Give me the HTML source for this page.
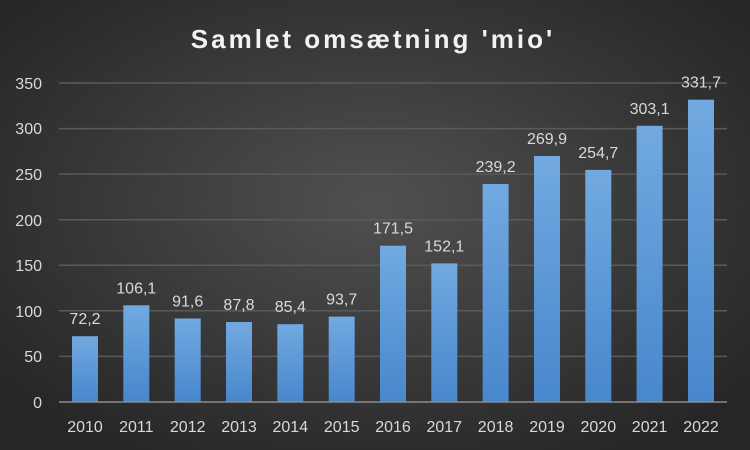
<!DOCTYPE html>
<html><head><meta charset="utf-8"><style>
html,body{margin:0;padding:0;width:750px;height:450px;overflow:hidden;background:#2a2a2a}
</style></head><body>
<svg width="750" height="450" xmlns="http://www.w3.org/2000/svg" font-family="'Liberation Sans', sans-serif">
<defs>
<radialGradient id="bg" cx="50%" cy="45%" r="65%">
<stop offset="0" stop-color="#505050"/><stop offset="1" stop-color="#262626"/>
</radialGradient>
<linearGradient id="bar" x1="0" y1="0" x2="0" y2="1">
<stop offset="0" stop-color="#72a9e0"/><stop offset="1" stop-color="#4887cc"/>
</linearGradient>
</defs>
<rect width="750" height="450" fill="url(#bg)"/>
<text x="373" y="48" text-anchor="middle" font-size="26" font-weight="bold" fill="#f2f2f2" letter-spacing="3">Samlet omsætning 'mio'</text>
<g stroke="#5a5a5a" stroke-width="1.5">
<line x1="59" x2="727" y1="356.4" y2="356.4"/>
<line x1="59" x2="727" y1="310.8" y2="310.8"/>
<line x1="59" x2="727" y1="265.3" y2="265.3"/>
<line x1="59" x2="727" y1="219.7" y2="219.7"/>
<line x1="59" x2="727" y1="174.1" y2="174.1"/>
<line x1="59" x2="727" y1="128.6" y2="128.6"/>
<line x1="59" x2="727" y1="83" y2="83"/>
</g>
<g font-size="16" fill="#d9d9d9" text-anchor="end">
<text x="42" y="408">0</text><text x="42" y="362">50</text><text x="42" y="317">100</text>
<text x="42" y="271">150</text><text x="42" y="226">200</text><text x="42" y="180">250</text>
<text x="42" y="134">300</text><text x="42" y="89">350</text>
</g>
<g fill="url(#bar)">
<rect x="72" y="336.2" width="26" height="65.8"/>
<rect x="123.3" y="305.3" width="26" height="96.7"/>
<rect x="174.7" y="318.5" width="26" height="83.5"/>
<rect x="226" y="322" width="26" height="80"/>
<rect x="277.3" y="324.2" width="26" height="77.8"/>
<rect x="328.7" y="316.6" width="26" height="85.4"/>
<rect x="380" y="245.7" width="26" height="156.3"/>
<rect x="431.3" y="263.4" width="26" height="138.6"/>
<rect x="482.6" y="184" width="26" height="218"/>
<rect x="534" y="156" width="26" height="246"/>
<rect x="585.3" y="169.9" width="26" height="232.1"/>
<rect x="636.6" y="125.8" width="26" height="276.2"/>
<rect x="688" y="99.7" width="26" height="302.3"/>
</g>
<g font-size="16" fill="#d9d9d9" text-anchor="middle">
<text x="85" y="324.2">72,2</text>
<text x="136.3" y="293.3">106,1</text>
<text x="187.7" y="306.5">91,6</text>
<text x="239" y="310">87,8</text>
<text x="290.3" y="312.2">85,4</text>
<text x="341.7" y="304.6">93,7</text>
<text x="393" y="233.7">171,5</text>
<text x="444.3" y="251.4">152,1</text>
<text x="495.6" y="172">239,2</text>
<text x="547" y="144">269,9</text>
<text x="598.3" y="157.9">254,7</text>
<text x="649.6" y="113.8">303,1</text>
<text x="701" y="87.7">331,7</text>
</g>
<g font-size="16" fill="#d9d9d9" text-anchor="middle">
<text x="85" y="432">2010</text><text x="136.3" y="432">2011</text><text x="187.7" y="432">2012</text>
<text x="239" y="432">2013</text><text x="290.3" y="432">2014</text><text x="341.7" y="432">2015</text>
<text x="393" y="432">2016</text><text x="444.3" y="432">2017</text><text x="495.6" y="432">2018</text>
<text x="547" y="432">2019</text><text x="598.3" y="432">2020</text><text x="649.6" y="432">2021</text>
<text x="701" y="432">2022</text>
</g>
<line x1="59" x2="727" y1="402" y2="402" stroke="#8c8c8c" stroke-width="1.5"/>
</svg>
</body></html>
